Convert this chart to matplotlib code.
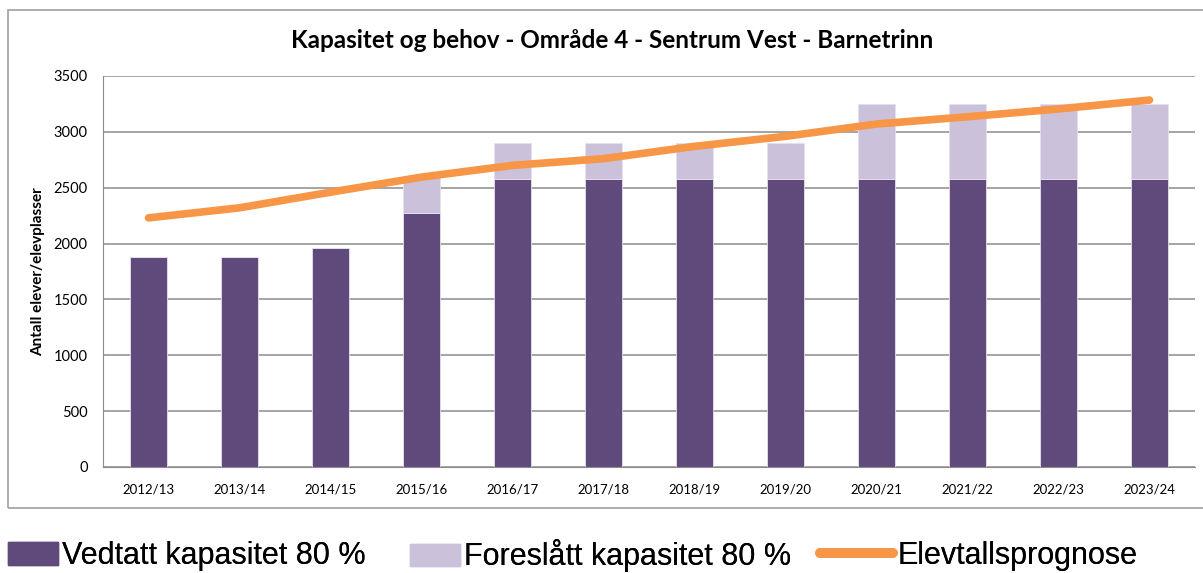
import matplotlib.pyplot as plt
import matplotlib.patches as mpatches
from matplotlib.lines import Line2D
import numpy as np

# Data
years = ['2012/13', '2013/14', '2014/15', '2015/16', '2016/17', '2017/18',
         '2018/19', '2019/20', '2020/21', '2021/22', '2022/23', '2023/24']
vedtatt = [1880, 1880, 1960, 2270, 2580, 2580, 2580, 2580, 2580, 2580, 2580, 2580]
foreslatt = [0, 0, 0, 330, 320, 320, 320, 320, 670, 670, 670, 670]
prognose = [2230, 2320, 2460, 2595, 2700, 2760, 2870, 2960, 3070, 3135, 3205, 3285]

dark = '#5F4A7B'
light = '#CBC1DB'
orange = '#F79646'

plt.rcParams['font.family'] = ['Lato', 'DejaVu Sans']

fig = plt.figure(figsize=(12.03, 5.73), dpi=100, facecolor='white')

# outer chart frame
fig.patches.append(mpatches.Rectangle((8 / 1203, 1 - 508 / 573), 1.2, 498 / 573,
                                      transform=fig.transFigure, fill=False,
                                      edgecolor='#A0A0A0', linewidth=1.2))

ax = fig.add_axes([103 / 1203, 1 - 467 / 573, 1092 / 1203, 391 / 573])
x = np.arange(len(years))
ax.bar(x, vedtatt, width=0.4, color=dark, edgecolor='#E6E0EE', linewidth=0.6, zorder=2)
ax.bar(x, foreslatt, width=0.4, bottom=vedtatt, color=light, edgecolor='#E6E0EE',
       linewidth=0.6, zorder=2)
ax.plot(x, prognose, color=orange, linewidth=5.5, solid_capstyle='round',
        solid_joinstyle='round', zorder=3)

ax.set_xlim(-0.5, len(years) - 0.5)
ax.set_ylim(0, 3500)
ax.set_yticks(range(0, 3501, 500))
ax.set_xticks(x)
ax.set_xticklabels(years, fontsize=9.5)
ax.tick_params(axis='y', labelsize=10.5, length=0, pad=11)
ax.tick_params(axis='x', length=0, pad=12)
ax.grid(axis='y', color='#8C8C8C', linewidth=1.1, zorder=0)
ax.set_axisbelow(True)
for s in ['top', 'right']:
    ax.spines[s].set_visible(False)
ax.spines['left'].set_color('#8C8C8C')
ax.spines['bottom'].set_color('#8C8C8C')

ax.set_ylabel('Antall elever/elevplasser', fontsize=11, fontweight='bold', labelpad=6)
fig.text(612 / 1203, 1 - 41 / 573, 'Kapasitet og behov - Område 4 - Sentrum Vest - Barnetrinn',
         ha='center', va='center', fontsize=17.5, fontweight='bold')

# legend below the frame, one entry each so the spacing can follow the reference
leg_font = {'family': ['Liberation Sans', 'DejaVu Sans'], 'size': 22}
entries = [
    (mpatches.Patch(color=dark), 'Vedtatt kapasitet 80 %', 8, 1.63),
    (mpatches.Patch(color=light), 'Foreslått kapasitet 80 %', 410, 1.63),
    (Line2D([0], [0], color=orange, linewidth=7, solid_capstyle='round'),
     'Elevtallsprognose', 820, 2.4),
]
for h, lab, xpx, hl in entries:
    lg = fig.legend([h], [lab], loc='center left', bbox_to_anchor=(xpx / 1203, 1 - 556 / 573),
                    frameon=False, handlelength=hl, handleheight=0.75, handletextpad=0.15,
                    borderaxespad=0, borderpad=0, prop=leg_font)
    fig.add_artist(lg)

plt.savefig('out.png', dpi=100, facecolor='white')
